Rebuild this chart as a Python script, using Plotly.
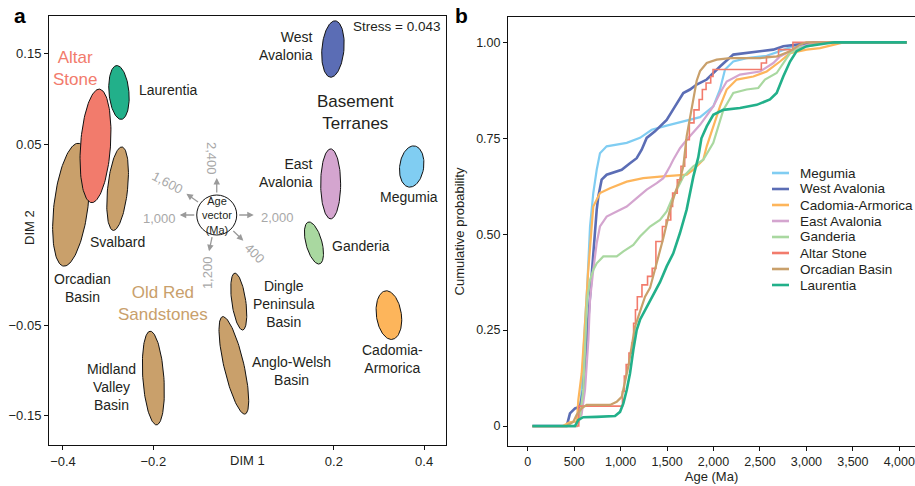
import numpy as np
import plotly.graph_objects as go

FONT = "Liberation Sans, Arial, Helvetica, sans-serif"
INK = "#231f20"
TAN = "#c9a06b"

# ---------------- Panel a: MDS ellipses ----------------
ell_names = ["Orcadian Basin", "Svalbard", "Laurentia", "Altar Stone", "West Avalonia",
             "East Avalonia", "Megumia", "Ganderia", "Dingle Peninsula Basin",
             "Anglo-Welsh Basin", "Midland Valley Basin", "Cadomia-Armorica"]
ell_cx = [-0.382, -0.279, -0.276, -0.328, 0.198, 0.193, 0.3725, 0.156, -0.0106, -0.0215, -0.1998, 0.322]
ell_cy = [-0.017, 0.0007, 0.107, 0.048, 0.155, 0.006, 0.0252, -0.0593, -0.124, -0.1945, -0.2085, -0.139]
ell_major = [0.137, 0.093, 0.0598, 0.126, 0.0627, 0.0775, 0.046, 0.048, 0.0636, 0.1107, 0.104, 0.0543]
ell_minor = [0.0377, 0.0221, 0.0221, 0.0332, 0.0244, 0.0221, 0.0266, 0.0177, 0.0155, 0.0221, 0.0233, 0.0277]
ell_tilt = [7, 6, -5, 4, 5, 0, 8, -15, -8, -13, -4, -8]
ell_colors = [TAN, TAN, "#22b08a", "#f27b6c", "#5b6db5", "#d4a5cf", "#80cdf2", "#a9d8a0",
              TAN, TAN, TAN, "#fdb55b"]
Y_PER_X = 451.5 / 905.0  # screen aspect of panel a (y units per x unit for equal pixels)

# ---------------- Panel b: cumulative age distributions ----------------
series_names = ["Megumia", "West Avalonia", "Cadomia-Armorica", "East Avalonia",
                "Ganderia", "Altar Stone", "Orcadian Basin", "Laurentia"]
series_colors = ["#80cdf2", "#5b6db5", "#fdb55b", "#d4a5cf", "#a9d8a0", "#f27b6c", TAN, "#22b08a"]
series_widths = [2.2, 2.6, 2.2, 2.2, 2.2, 1.6, 2.2, 2.6]

age_megumia = [50, 510, 555, 581, 617, 640, 671, 706, 743, 778, 850, 1066, 1209, 1335, 1496, 1712, 1855, 1998, 2070, 2124, 2213, 2357, 2573, 2716, 2859, 3003, 3200, 4080]
cp_megumia = [0, 0, 0.024, 0.094, 0.268, 0.36, 0.52, 0.607, 0.668, 0.711, 0.729, 0.738, 0.751, 0.772, 0.783, 0.796, 0.805, 0.833, 0.877, 0.929, 0.950, 0.959, 0.965, 0.977, 0.990, 0.994, 1.0, 1.0]

age_west_avalonia = [50, 420, 455, 509, 563, 598, 635, 671, 706, 743, 760, 796, 850, 922, 1012, 1101, 1173, 1227, 1281, 1370, 1424, 1496, 1586, 1675, 1747, 1819, 1927, 2070, 2213, 2429, 2644, 2751, 2895, 3100, 4080]
cp_west_avalonia = [0, 0, 0.033, 0.046, 0.050, 0.094, 0.224, 0.34, 0.433, 0.564, 0.598, 0.642, 0.655, 0.661, 0.668, 0.685, 0.698, 0.720, 0.751, 0.768, 0.781, 0.798, 0.833, 0.868, 0.877, 0.890, 0.903, 0.937, 0.968, 0.974, 0.981, 0.990, 0.994, 1.0, 1.0]

age_cadomia = [50, 380, 450, 530, 545, 581, 617, 650, 689, 706, 778, 886, 1066, 1244, 1424, 1604, 1712, 1783, 1890, 1927, 1998, 2070, 2142, 2250, 2429, 2573, 2716, 2824, 3003, 3146, 3400, 4080]
cp_cadomia = [0, 0, 0.01, 0.012, 0.068, 0.137, 0.268, 0.40, 0.52, 0.572, 0.607, 0.620, 0.637, 0.646, 0.650, 0.652, 0.655, 0.668, 0.694, 0.729, 0.781, 0.833, 0.877, 0.903, 0.911, 0.924, 0.950, 0.972, 0.981, 0.985, 1.0, 1.0]

age_east_avalonia = [50, 527, 580, 617, 653, 671, 706, 743, 778, 850, 958, 1066, 1173, 1281, 1389, 1460, 1532, 1567, 1639, 1712, 1855, 1998, 2070, 2142, 2285, 2500, 2644, 2716, 2859, 3100, 4080]
cp_east_avalonia = [0, 0, 0.03, 0.094, 0.224, 0.33, 0.407, 0.477, 0.52, 0.546, 0.559, 0.572, 0.594, 0.616, 0.633, 0.646, 0.677, 0.694, 0.724, 0.746, 0.785, 0.833, 0.868, 0.898, 0.916, 0.924, 0.946, 0.963, 0.981, 1.0, 1.0]

age_ganderia = [50, 530, 560, 598, 640, 670, 706, 743, 814, 958, 1030, 1137, 1209, 1317, 1424, 1496, 1550, 1604, 1675, 1783, 1890, 1998, 2106, 2213, 2357, 2482, 2554, 2680, 2751, 2824, 2931, 3200, 4080]
cp_ganderia = [0, 0, 0.02, 0.094, 0.33, 0.38, 0.407, 0.424, 0.442, 0.442, 0.455, 0.472, 0.494, 0.520, 0.537, 0.559, 0.590, 0.616, 0.650, 0.677, 0.694, 0.738, 0.824, 0.868, 0.877, 0.881, 0.903, 0.920, 0.946, 0.972, 0.985, 1.0, 1.0]

age_altar = [50, 550, 1020, 1040, 1060, 1090, 1120, 1140, 1160, 1180, 1230, 1290, 1340, 1380, 1450, 1490, 1540, 1560, 1610, 1650, 1690, 1705, 1740, 1790, 1845, 1880, 1920, 1970, 1995, 2515, 2570, 2700, 2855, 4080]
cp_altar = [0, 0.052, 0.09, 0.13, 0.16, 0.19, 0.216, 0.268, 0.303, 0.337, 0.368, 0.390, 0.411, 0.481, 0.52, 0.537, 0.572, 0.607, 0.642, 0.677, 0.70, 0.746, 0.790, 0.824, 0.851, 0.877, 0.894, 0.911, 0.929, 0.946, 0.963, 0.981, 1.0, 1.0]

age_orcadian = [50, 420, 491, 527, 581, 635, 886, 958, 1012, 1047, 1083, 1119, 1155, 1191, 1227, 1263, 1317, 1389, 1460, 1532, 1586, 1639, 1675, 1711, 1747, 1783, 1819, 1855, 1927, 2034, 2178, 2500, 2680, 2824, 2931, 3000, 4080]
cp_orcadian = [0, 0, 0.011, 0.029, 0.046, 0.055, 0.055, 0.063, 0.076, 0.111, 0.155, 0.207, 0.259, 0.285, 0.311, 0.337, 0.36, 0.424, 0.49, 0.564, 0.607, 0.642, 0.677, 0.755, 0.807, 0.859, 0.90, 0.925, 0.946, 0.955, 0.959, 0.959, 0.963, 0.977, 0.994, 1.0, 1.0]

age_laurentia = [50, 509, 545, 598, 743, 940, 994, 1030, 1066, 1101, 1137, 1173, 1209, 1281, 1352, 1424, 1496, 1567, 1639, 1711, 1783, 1836, 1870, 1927, 1998, 2106, 2285, 2465, 2608, 2680, 2751, 2824, 2895, 3003, 3300, 4080]
cp_laurentia = [0, 0, 0.016, 0.023, 0.024, 0.026, 0.037, 0.059, 0.094, 0.137, 0.198, 0.250, 0.277, 0.311, 0.344, 0.375, 0.416, 0.45, 0.503, 0.564, 0.65, 0.70, 0.75, 0.781, 0.811, 0.824, 0.829, 0.837, 0.851, 0.868, 0.911, 0.950, 0.977, 0.990, 1.0, 1.0]

series_ages = [age_megumia, age_west_avalonia, age_cadomia, age_east_avalonia,
               age_ganderia, age_altar, age_orcadian, age_laurentia]
series_cp = [cp_megumia, cp_west_avalonia, cp_cadomia, cp_east_avalonia,
             cp_ganderia, cp_altar, cp_orcadian, cp_laurentia]
series_shape = ["linear", "linear", "linear", "linear", "linear", "hv", "linear", "linear"]

xa_ticks = [-0.4, -0.2, 0.2, 0.4]
xa_ticktext = ["\u22120.4", "\u22120.2", "0.2", "0.4"]
ya_tickvals = [0.15, 0.05, -0.15, -0.25]
ya_ticktext = ["0.15", "0.05", "\u22120.05", "\u22120.15"]
xb_ticks = [0, 500, 1000, 1500, 2000, 2500, 3000, 3500, 4000]
xb_ticktext = ["0", "500", "1,000", "1,500", "2,000", "2,500", "3,000", "3,500", "4,000"]
yb_ticks = [0, 0.25, 0.5, 0.75, 1.0]
yb_ticktext = ["0", "0.25", "0.50", "0.75", "1.00"]

fig = go.Figure()

t = np.linspace(0, 2 * np.pi, 120)
for i in range(len(ell_names)):
    phi = np.radians(ell_tilt[i])
    u = ell_minor[i] * np.cos(t)
    v = ell_major[i] * np.sin(t)
    ex = ell_cx[i] + v * np.sin(phi) + u * np.cos(phi)
    ey = ell_cy[i] + (v * np.cos(phi) - u * np.sin(phi)) * Y_PER_X
    fig.add_trace(go.Scatter(x=ex, y=ey, mode="lines", fill="toself",
                             fillcolor=ell_colors[i], line=dict(color="#111111", width=1),
                             name=ell_names[i], showlegend=False, hoverinfo="name",
                             xaxis="x", yaxis="y"))

for i in range(len(series_names)):
    fig.add_trace(go.Scatter(x=series_ages[i], y=series_cp[i], mode="lines",
                             line=dict(color=series_colors[i], width=series_widths[i],
                                       shape=series_shape[i]),
                             name=series_names[i], showlegend=False,
                             xaxis="x2", yaxis="y2"))

ann = []
def A(text, x, y, size=14, color=INK, xanchor="center", align="center", angle=0, ref=("x", "y")):
    ann.append(dict(text=text, x=x, y=y, xref=ref[0], yref=ref[1], showarrow=False,
                    font=dict(family=FONT, size=size, color=color), xanchor=xanchor,
                    yanchor="middle", align=align, textangle=angle))

# panel a labels
A("Stress = 0.043", 0.4396, 0.1804, size=13.5, xanchor="right")
A("West<br>Avalonia", 0.1584, 0.1578, xanchor="right", align="right")
A("Altar<br>Stone", -0.3732, 0.1335, size=17, color="#f27b6c")
A("Laurentia", -0.2359, 0.1097, xanchor="left")
A("Basement<br>Terranes", 0.2485, 0.0854, size=17)
A("East<br>Avalonia", 0.1584, 0.0175, xanchor="right", align="right")
A("Megumia", 0.3666, -0.0085)
A("Svalbard", -0.3444, -0.0582, xanchor="left")
A("Ganderia", 0.1916, -0.0621, xanchor="left")
A("Orcadian<br>Basin", -0.3577, -0.1085)
A("Old Red<br>Sandstones", -0.1783, -0.1262, size=17, color=TAN)
A("Dingle<br>Peninsula<br>Basin", 0.0897, -0.1262)
A("Cadomia-<br>Armorica", 0.3289, -0.1875)
A("Anglo-Welsh<br>Basin", 0.1052, -0.2002)
A("Midland<br>Valley<br>Basin", -0.2935, -0.2179)

# age vector
cx0, cy0 = -0.0594, -0.0284
A("Age<br>vector<br>(Ma)", cx0, cy0, size=11)
GREY = "#9a9a9a"
for ang in [90, 0, 180, 145, 258, 316]:
    th = np.radians(ang)
    hx = cx0 + 37 * np.cos(th) / 451.5
    hy = cy0 + 37 * np.sin(th) / 905.0
    ann.append(dict(x=hx, y=hy, xref="x", yref="y", ax=-16 * np.cos(th), ay=16 * np.sin(th),
                    axref="pixel", ayref="pixel", showarrow=True, arrowhead=2, arrowsize=1,
                    arrowwidth=1.3, arrowcolor=GREY, text=""))
LG = "#a8a8a8"
A("2,400", -0.072, 0.0346, size=13, color=LG, angle=90)
A("1,600", -0.1694, 0.007, size=13, color=LG, angle=28)
A("1,000", -0.1872, -0.0317, size=13, color=LG)
A("2,000", 0.0742, -0.0306, size=13, color=LG)
A("400", 0.0255, -0.0704, size=13, color=LG, angle=45)
A("1,200", -0.0808, -0.0925, size=13, color=LG, angle=-90)

# axis titles of panel a and panel letters
A("DIM 1", 248 / 915, 1 - 460 / 486, size=13, ref=("paper", "paper"))
A("DIM 2", 29 / 915, 1 - 228 / 486, size=13, angle=-90, ref=("paper", "paper"))
ann.append(dict(text="<b>a</b>", x=12 / 915, y=1 - 15 / 486, xref="paper", yref="paper",
                showarrow=False, xanchor="left", yanchor="middle",
                font=dict(family=FONT, size=21, color="#000")))
ann.append(dict(text="<b>b</b>", x=453 / 915, y=1 - 15 / 486, xref="paper", yref="paper",
                showarrow=False, xanchor="left", yanchor="middle",
                font=dict(family=FONT, size=21, color="#000")))

# manual legend for panel b
shapes = []
for i in range(len(series_names)):
    yy = 1 - (173 + 16 * i) / 486
    shapes.append(dict(type="line", xref="paper", yref="paper", x0=772 / 915, x1=789 / 915,
                       y0=yy, y1=yy, line=dict(color=series_colors[i], width=2.6)))
    A(series_names[i], 798 / 915, yy, size=13.5, xanchor="left", ref=("paper", "paper"))

# age vector circle
shapes.append(dict(type="circle", xref="x", yref="y", x0=cx0 - 20 / 451.5, x1=cx0 + 20 / 451.5,
                   y0=cy0 - 20 / 905.0, y1=cy0 + 20 / 905.0, line=dict(color="#111", width=1),
                   fillcolor="white", layer="above"))

axis_common = dict(showgrid=False, zeroline=False, showline=True, linecolor="#111", linewidth=1,
                   mirror=True, ticks="outside", ticklen=4, tickcolor="#111", tickwidth=1)

fig.update_layout(
    width=915, height=486, margin=dict(l=0, r=0, t=0, b=0),
    paper_bgcolor="white", plot_bgcolor="white", showlegend=False,
    font=dict(family=FONT, color=INK),
    xaxis=dict(domain=[49 / 915, 446 / 915], range=[-0.431, 0.4485], tickvals=xa_ticks,
               ticktext=xa_ticktext, anchor="y", tickfont=dict(family=FONT, size=13, color=INK),
               **axis_common),
    yaxis=dict(domain=[1 - 445 / 486, 1 - 16 / 486], range=[-0.2825, 0.1915], tickvals=ya_tickvals,
               ticktext=ya_ticktext, anchor="x", tickfont=dict(family=FONT, size=13, color=INK),
               **axis_common),
    xaxis2=dict(domain=[508 / 915, 1.0], range=[-212, 4169], tickvals=xb_ticks, ticktext=xb_ticktext,
                anchor="y2", tickfont=dict(family=FONT, size=12.5, color=INK),
                title=dict(text="Age (Ma)", font=dict(family=FONT, size=13, color=INK), standoff=3),
                **axis_common),
    yaxis2=dict(domain=[1 - 446 / 486, 1 - 17 / 486], range=[-0.052, 1.066], tickvals=yb_ticks,
                ticktext=yb_ticktext, anchor="x2", tickfont=dict(family=FONT, size=12.5, color=INK),
                title=dict(text="Cumulative probability", font=dict(family=FONT, size=13, color=INK),
                           standoff=8),
                **axis_common),
    annotations=ann, shapes=shapes,
)

fig.write_html("out.html", config={"displayModeBar": False},
               post_script="document.body.style.margin='0';document.body.style.padding='0';")
